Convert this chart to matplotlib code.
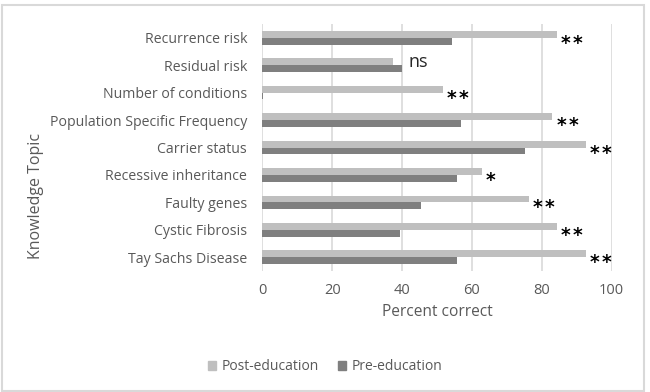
import numpy as np
import matplotlib
matplotlib.use("Agg")
import matplotlib.pyplot as plt
from matplotlib.patches import Rectangle, Patch

# data, listed top to bottom as in the chart
topics = [
    "Recurrence risk",
    "Residual risk",
    "Number of conditions",
    "Population Specific Frequency",
    "Carrier status",
    "Recessive inheritance",
    "Faulty genes",
    "Cystic Fibrosis",
    "Tay Sachs Disease",
]
post_edu = [84.3, 37.3, 51.6, 83.0, 92.6, 62.8, 76.3, 84.3, 92.6]
pre_edu = [54.3, 39.9, 0.3, 56.8, 75.3, 55.8, 45.5, 39.4, 55.8]
signif = ["**", "ns", "**", "**", "**", "*", "**", "**", "**"]
xticks = [0, 20, 40, 60, 80, 100]

TXT = "#595959"
plt.rcParams["font.family"] = ["Open Sans", "DejaVu Sans"]

fig = plt.figure(figsize=(6.5, 3.92), dpi=100)
ax = fig.add_axes([262.3 / 650, 1 - 271 / 392, (611.7 - 262.3) / 650, 247 / 392])

y = np.arange(len(topics))
h = 0.25
ax.barh(y - h / 2, post_edu, height=h, color="#BFBFBF", label="Post-education", zorder=2)
ax.barh(y + h / 2, pre_edu, height=h, color="#7F7F7F", label="Pre-education", zorder=2)

# significance marks after the longer bar
for i, s in enumerate(signif):
    xe = max(post_edu[i], pre_edu[i])
    if s == "ns":
        ax.annotate(s, (xe, i), xytext=(5, 2), textcoords="offset points",
                    ha="left", va="center", fontsize=13, color="#262626")
        continue
    # one star per annotation, spaced like the original
    for k in range(len(s)):
        ax.annotate("*", (xe, i), xytext=(3 + 8.4 * k, -4),
                    textcoords="offset points", ha="left", va="center",
                    fontsize=13.5, fontweight="bold", color="black",
                    family="DejaVu Sans")

ax.set_xlim(0, 100)
ax.set_ylim(len(topics) - 0.5, -0.5)
ax.set_xticks(xticks)
ax.set_yticks(y)
ax.set_yticklabels(topics)
ax.tick_params(axis="both", length=0, labelcolor=TXT)
ax.tick_params(axis="y", pad=11, labelsize=10.2)
ax.tick_params(axis="x", pad=9, labelsize=10.5)
ax.xaxis.grid(True, color="#D9D9D9", linewidth=1.2, zorder=0)
ax.set_axisbelow(True)
for sp in ax.spines.values():
    sp.set_visible(False)

ax.set_xlabel("Percent correct", fontsize=11.2, color=TXT, labelpad=4)
ax.set_ylabel("Knowledge Topic", fontsize=11.5, color=TXT)
ax.yaxis.set_label_coords(44 / 650, 0.5, transform=fig.transFigure)

handles = [Patch(color="#BFBFBF"), Patch(color="#7F7F7F")]
fig.legend(handles, ["Post-education", "Pre-education"], loc="center",
           bbox_to_anchor=(0.5, 1 - 367 / 392), ncol=2, frameon=False,
           fontsize=10, labelcolor=TXT, handlelength=0.6, handleheight=0.6,
           handletextpad=0.35, columnspacing=1.4)

# chart border
fig.patches.append(Rectangle((1.5 / 650, 1.5 / 392), 642 / 650, 386 / 392,
                             transform=fig.transFigure, fill=False,
                             edgecolor="#D9D9D9", linewidth=1.5))

fig.savefig("out.png", dpi=100)
